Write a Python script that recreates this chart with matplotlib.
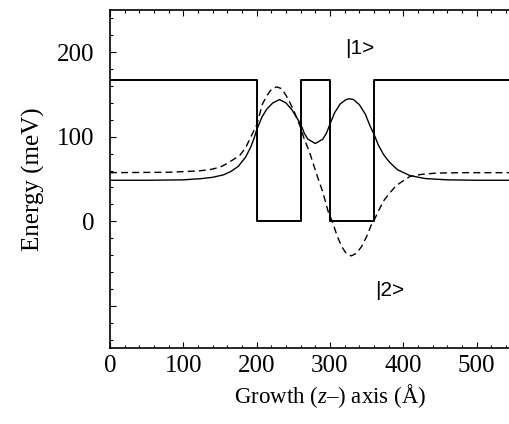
import numpy as np
import matplotlib
matplotlib.use("Agg")
import matplotlib.pyplot as plt
from matplotlib.ticker import MultipleLocator, FixedLocator, FixedFormatter

plt.rcParams['font.family'] = ['Liberation Serif', 'DejaVu Serif']
plt.rcParams['mathtext.fontset'] = 'custom'
plt.rcParams['mathtext.rm'] = 'Liberation Serif'
plt.rcParams['mathtext.it'] = 'Liberation Serif:italic'

# conduction band profile (A, meV)
pot_z = [0, 200, 200, 260, 260, 300, 300, 360, 360, 600]
pot_e = [167, 167, 0, 0, 167, 167, 0, 0, 167, 167]

# state |1> (solid)
psi1_z = [0, 50, 100, 125, 140, 155, 165, 175, 185, 192, 196, 200, 207, 214, 222,
          231, 240, 248, 255, 260, 265, 270, 280, 290, 295, 300, 306, 314, 322,
          326, 332, 340, 348, 355, 360, 366, 373, 381, 392, 409, 430, 460, 500, 600]
psi1_e = [48.5, 48.5, 49, 50.5, 52, 55, 59, 65, 76, 88, 97, 108, 123, 133, 140,
          144, 140, 132, 122, 115, 104, 97, 92, 97, 104, 115, 128, 139, 144,
          145, 144, 138, 127, 112, 103, 90, 79, 70, 61, 54, 50.5, 49, 48.5, 48.5]

# state |2> (dashed)
psi2_z = [0, 80, 120, 136, 150, 159, 170, 177, 185, 191, 200, 208, 215, 220, 227,
          234, 240, 245, 252, 259, 265, 272, 282, 290, 298, 303, 310, 316, 322,
          329, 336, 343, 350, 356, 360, 366, 373, 381, 390, 400, 409, 425, 445,
          480, 600]
psi2_e = [57.5, 58, 59.5, 61, 64, 68, 74, 78, 87, 98, 114, 139, 150, 156, 159,
          157, 149, 141, 128, 113, 97, 82, 55, 35, 10, 0, -18, -30, -38,
          -41, -38, -30, -18, -5, 1, 12, 24, 33, 42, 48, 53, 55.5, 57,
          57.5, 57.5]

x_ticks = [0, 100, 200, 300, 400, 500, 600]
x_labels = ['0', '100', '200', '300', '400', '500', '']
y_ticks = [-100, 0, 100, 200]
y_labels = ['', '0', '100', '200']

fig = plt.figure(figsize=(5.10, 4.24), dpi=100)
ax = fig.add_axes([110 / 510, 76 / 424, 440 / 510, 338 / 424])

ax.plot(pot_z, pot_e, color='black', lw=1.4)
ax.plot(psi1_z, psi1_e, color='black', lw=1.0)
ax.plot(psi2_z, psi2_e, color='black', lw=1.0, ls=(0, (5, 3)))

ax.text(320, 205, '|1>', fontsize=15, va='center', ha='left', family='Liberation Sans')
ax.text(361, -82, '|2>', fontsize=15, va='center', ha='left', family='Liberation Sans')

ax.set_xlim(0, 600)
ax.set_ylim(-150, 250)
ax.xaxis.set_major_locator(FixedLocator(x_ticks))
ax.xaxis.set_major_formatter(FixedFormatter(x_labels))
ax.xaxis.set_minor_locator(MultipleLocator(20))
ax.yaxis.set_major_locator(FixedLocator(y_ticks))
ax.yaxis.set_major_formatter(FixedFormatter(y_labels))
ax.yaxis.set_minor_locator(MultipleLocator(20))
ax.tick_params(which='both', direction='in', top=True, right=True, width=0.8)
ax.tick_params(which='major', length=4)
ax.tick_params(which='minor', length=2)
ax.tick_params(axis='x', labelsize=18, pad=5)
ax.tick_params(axis='y', labelsize=18, pad=11)
for s in ax.spines.values():
    s.set_linewidth(1.2)

ax.set_xlabel('Growth ($z$–) axis (Å)', fontsize=16.5, labelpad=4)
ax.set_ylabel('Energy (meV)', fontsize=18, labelpad=9)

fig.savefig('out.png', dpi=100)
